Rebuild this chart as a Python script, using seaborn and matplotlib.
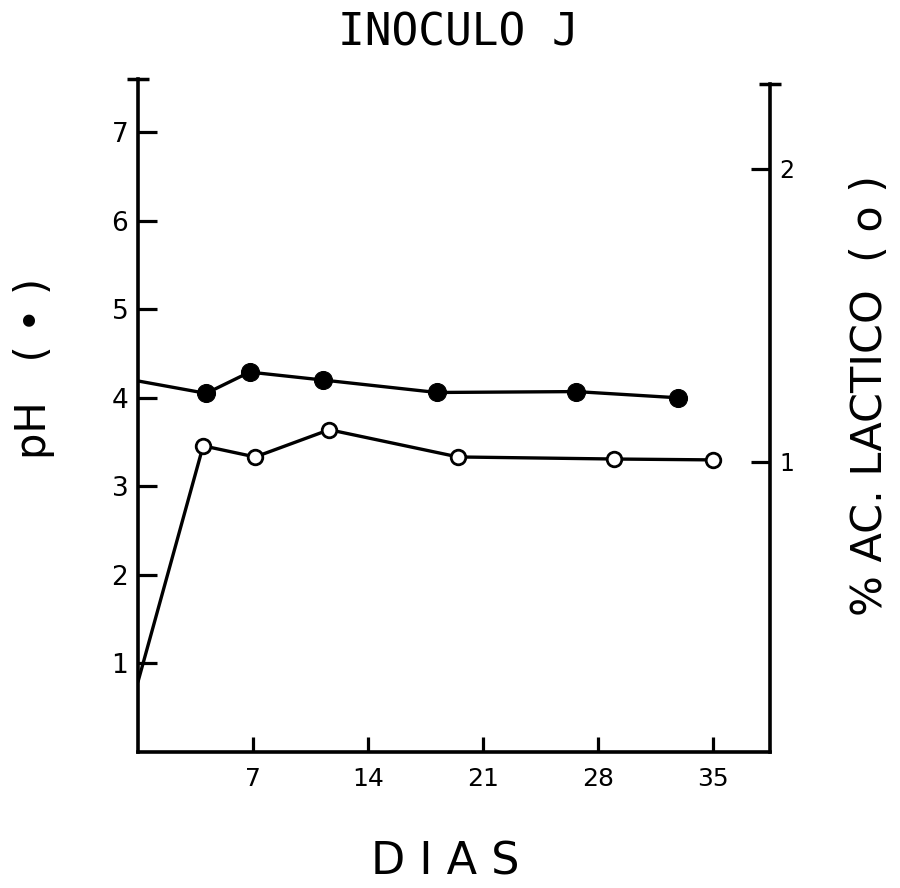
import matplotlib
matplotlib.use("Agg")
import matplotlib.pyplot as plt
import pandas as pd
import seaborn as sns

# values
days_ph = [0, 4.15, 6.8, 11.3, 18.2, 26.7, 32.9]
ph = [4.19, 4.05, 4.29, 4.20, 4.06, 4.07, 4.00]

days_lac = [0, 3.97, 7.14, 11.65, 19.5, 29.0, 35.0]
lactic = [0.25, 1.055, 1.017, 1.11, 1.017, 1.01, 1.007]

x_ticks = [7, 14, 21, 28, 35]
ph_ticks = [1, 2, 3, 4, 5, 6, 7]
lac_ticks = [1, 2]

sns.set_style("ticks")
plt.rcParams["font.family"] = ["DejaVu Sans"]
plt.rcParams.update({
    "text.color": "black",
    "axes.edgecolor": "black",
    "axes.labelcolor": "black",
    "xtick.color": "black",
    "ytick.color": "black",
})

df_ph = pd.DataFrame({"dias": days_ph, "ph": ph})
df_lac = pd.DataFrame({"dias": days_lac, "lactico": lactic})

fig = plt.figure(figsize=(9, 8.88), dpi=100)
ax = fig.add_axes([138 / 900, 1 - 752 / 888, 632 / 900, 673 / 888])
ax2 = ax.twinx()

sns.lineplot(
    data=df_ph, x="dias", y="ph", ax=ax, sort=False,
    color="black", lw=2.4, marker="o", markersize=13,
    markerfacecolor="black", markeredgecolor="black",
    markevery=list(range(1, len(ph))), zorder=3,
)
sns.lineplot(
    data=df_lac, x="dias", y="lactico", ax=ax2, sort=False,
    color="black", lw=2.4, marker="o", markersize=10.5,
    markerfacecolor="white", markeredgecolor="black", markeredgewidth=2,
    markevery=list(range(1, len(lactic))), zorder=3,
)

ax.set_xlim(0, 38.5)
ax.set_ylim(0, 7.6)
ax2.set_ylim(0.01, 2.307)

ax.set_xticks(x_ticks)
ax.set_yticks(ph_ticks)
ax2.set_yticks(lac_ticks)
ax.set_xlabel("")
ax.set_ylabel("")
ax2.set_ylabel("")

# end caps on the vertical axes
ax.set_yticks([7.6], minor=True)
ax2.set_yticks([2.29], minor=True)
ax.tick_params(axis="y", which="minor", direction="inout", length=16, width=2.5, labelleft=False)
ax2.tick_params(axis="y", which="minor", direction="inout", length=16, width=2.5, labelright=False)

ax.tick_params(axis="x", direction="in", length=11, width=2.3, pad=11, labelsize=18)
ax.tick_params(axis="y", which="major", direction="in", length=14, width=2.3, pad=7, labelsize=19)
ax2.tick_params(axis="y", which="major", direction="in", length=14, width=2.3, pad=7, labelsize=17)

for name in ["top", "right"]:
    ax.spines[name].set_visible(False)
for name in ["top", "left", "bottom"]:
    ax2.spines[name].set_visible(False)
for sp in [ax.spines["left"], ax.spines["bottom"], ax2.spines["right"]]:
    sp.set_linewidth(2.6)
ax2.spines["right"].set_bounds(0.01, 2.29)

fig.text(458 / 900, 1 - 33 / 888, "INOCULO J", ha="center", va="center",
         family="DejaVu Sans Mono", fontsize=32)
fig.text(445 / 900, 1 - 862 / 888, "D I A S", ha="center", va="center", fontsize=32)
fig.text(34 / 900, 1 - 368 / 888, "pH   ( • )", ha="center", va="center",
         rotation=90, fontsize=30)
fig.text(870 / 900, 1 - 395 / 888, "% AC. LACTICO  ( o )", ha="center", va="center",
         rotation=90, fontsize=31)

fig.savefig("out.png", dpi=100, facecolor="white")
